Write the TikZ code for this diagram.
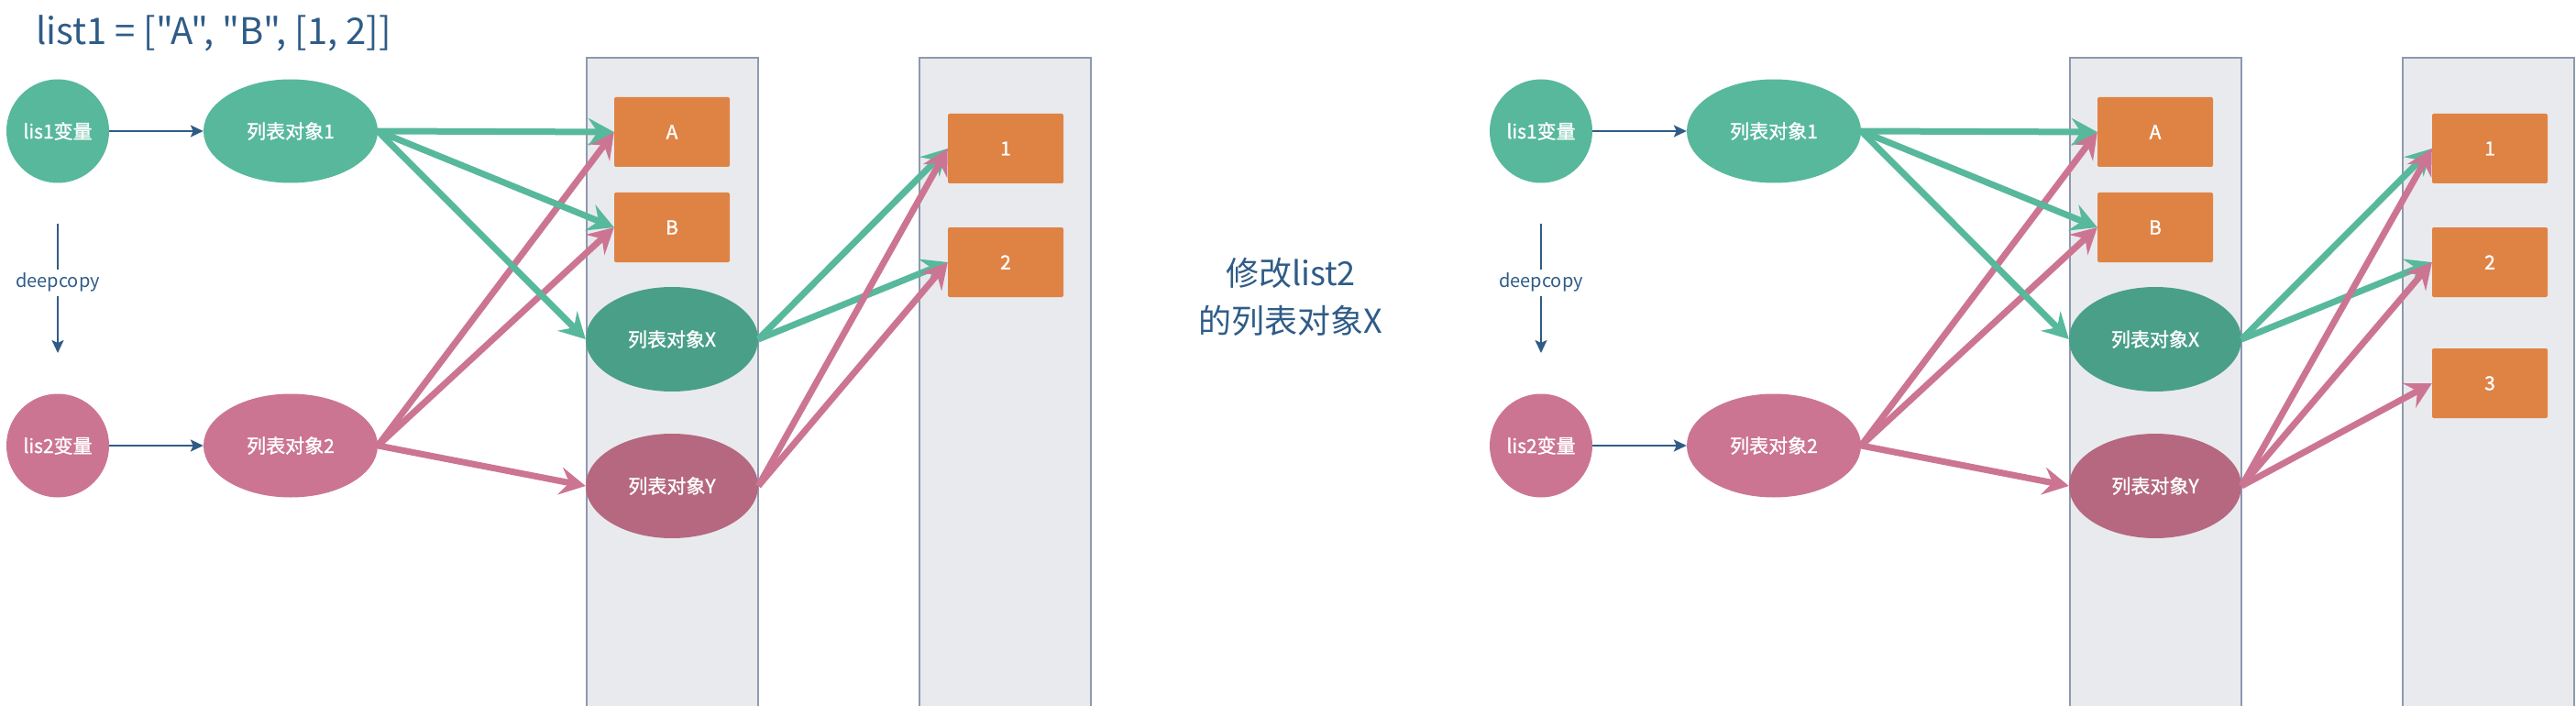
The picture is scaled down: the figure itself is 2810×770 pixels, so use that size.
\documentclass[tikz,border=0pt]{standalone}
\usepackage{fontspec}
\newfontfamily\cjk{Noto Sans CJK SC}
\newfontfamily\cjkb[FakeBold=1.2]{Noto Sans CJK SC}
\usetikzlibrary{arrows.meta,shapes.geometric}
\definecolor{tealA}{HTML}{57B89C}
\definecolor{tealB}{HTML}{4A9F89}
\definecolor{pinkA}{HTML}{CC7592}
\definecolor{pinkB}{HTML}{B5687F}
\definecolor{orng}{HTML}{DF8345}
\definecolor{panelbg}{HTML}{E9EAEE}
\definecolor{panelln}{HTML}{8D99AE}
\definecolor{navy}{HTML}{2F5C87}
\begin{document}
\begin{tikzpicture}[x=1pt,y=-1pt,
  every node/.style={inner sep=0pt},
  lbl/.style={text=white,font=\cjkb\fontsize{21}{25}\selectfont},
  varnode/.style={lbl,ellipse,minimum width=112pt,minimum height=113pt},
  objnode/.style={lbl,ellipse,minimum width=190pt,minimum height=113pt},
  innode/.style={lbl,ellipse,minimum width=188pt,minimum height=114pt},
  valbox/.style={lbl,rectangle,rounded corners=2pt,fill=orng,minimum width=126pt,minimum height=76pt},
  thin/.style={draw=navy,line width=2pt,-{Stealth[length=14pt,width=13pt,inset=3pt]}},
  thick/.style={line width=7pt,-{Stealth[length=28pt,width=30pt,inset=10pt]}},
  gar/.style={thick,draw=tealA,color=tealA},
  par/.style={thick,draw=pinkA,color=pinkA},
  paneltop/.style={draw=panelln,line width=2pt},
  navytext/.style={text=navy},
]
\useasboundingbox (0,0) rectangle (2810,770);
\fill[white] (0,0) rectangle (2810,770);

% panels
\foreach \px in {0,1618}{
  \fill[panelbg] (640+\px,63) rectangle (827+\px,780);
  \draw[paneltop] (640+\px,780) -- (640+\px,63) -- (827+\px,63) -- (827+\px,780);
  \fill[panelbg] (1003+\px,63) rectangle (1190+\px,780);
  \draw[paneltop] (1003+\px,780) -- (1003+\px,63) -- (1190+\px,63) -- (1190+\px,780);
}

% title
\node[navytext,anchor=west,font=\cjk\fontsize{40}{48}\selectfont] (title) at (39,36) {list1 = ["A", "B", [1, 2]]};
\node[navytext,font=\cjk\fontsize{36}{44}\selectfont] (mid1) at (1408,298) {修改list2};
\node[navytext,font=\cjk\fontsize{36}{44}\selectfont] (mid2) at (1408,350) {的列表对象X};

% ---------- left half ----------
\node[varnode,fill=tealA] (lisL1) at (63,143) {lis1变量};
\node[objnode,fill=tealA] (objL1) at (317,143) {列表对象1};
\node[varnode,fill=pinkA] (lisL2) at (63,486) {lis2变量};
\node[objnode,fill=pinkA] (objL2) at (317,486) {列表对象2};
\node[valbox] (AL) at (733,144) {A};
\node[valbox] (BL) at (733,248) {B};
\node[innode,fill=tealB] (XL) at (733,370) {列表对象X};
\node[innode,fill=pinkB] (YL) at (733,530) {列表对象Y};
\node[valbox] (oneL) at (1097,162) {1};
\node[valbox] (twoL) at (1097,286) {2};

\coordinate (dcLtop) at (63,244);
\coordinate (dcLbot) at (63,385);
\node[navytext,font=\cjk\fontsize{20}{24}\selectfont,inner sep=4pt] (dcL) at (63,308) {deepcopy};
\draw[draw=navy,line width=2pt] (dcLtop) -- (dcL.north);
\draw[thin,color=navy] (dcL.south) -- (dcLbot);
\draw[thin,color=navy] (lisL1) -- (objL1);
\draw[thin,color=navy] (lisL2) -- (objL2);

\draw[par] (objL2.east) -- (AL.west);
\draw[par] (objL2.east) -- (BL.west);
\draw[par] (objL2.east) -- (YL.west);
\draw[gar] (objL1.east) -- (AL.west);
\draw[gar] (objL1.east) -- (BL.west);
\draw[gar] (objL1.east) -- (XL.west);
\draw[gar] (XL.east) -- (oneL.west);
\draw[gar] (XL.east) -- (twoL.west);
\draw[par] (YL.east) -- (oneL.west);
\draw[par] (YL.east) -- (twoL.west);

% ---------- right half ----------
\node[varnode,fill=tealA] (lisR1) at (1681,143) {lis1变量};
\node[objnode,fill=tealA] (objR1) at (1935,143) {列表对象1};
\node[varnode,fill=pinkA] (lisR2) at (1681,486) {lis2变量};
\node[objnode,fill=pinkA] (objR2) at (1935,486) {列表对象2};
\node[valbox] (AR) at (2351,144) {A};
\node[valbox] (BR) at (2351,248) {B};
\node[innode,fill=tealB] (XR) at (2351,370) {列表对象X};
\node[innode,fill=pinkB] (YR) at (2351,530) {列表对象Y};
\node[valbox] (oneR) at (2716,162) {1};
\node[valbox] (twoR) at (2716,286) {2};
\node[valbox] (threeR) at (2716,418) {3};

\coordinate (dcRtop) at (1681,244);
\coordinate (dcRbot) at (1681,385);
\node[navytext,font=\cjk\fontsize{20}{24}\selectfont,inner sep=4pt] (dcR) at (1681,308) {deepcopy};
\draw[draw=navy,line width=2pt] (dcRtop) -- (dcR.north);
\draw[thin,color=navy] (dcR.south) -- (dcRbot);
\draw[thin,color=navy] (lisR1) -- (objR1);
\draw[thin,color=navy] (lisR2) -- (objR2);

\draw[par] (objR2.east) -- (AR.west);
\draw[par] (objR2.east) -- (BR.west);
\draw[par] (objR2.east) -- (YR.west);
\draw[gar] (objR1.east) -- (AR.west);
\draw[gar] (objR1.east) -- (BR.west);
\draw[gar] (objR1.east) -- (XR.west);
\draw[gar] (XR.east) -- (oneR.west);
\draw[gar] (XR.east) -- (twoR.west);
\draw[par] (YR.east) -- (oneR.west);
\draw[par] (YR.east) -- (twoR.west);
\draw[par] (YR.east) -- (threeR.west);
\end{tikzpicture}
\end{document}
